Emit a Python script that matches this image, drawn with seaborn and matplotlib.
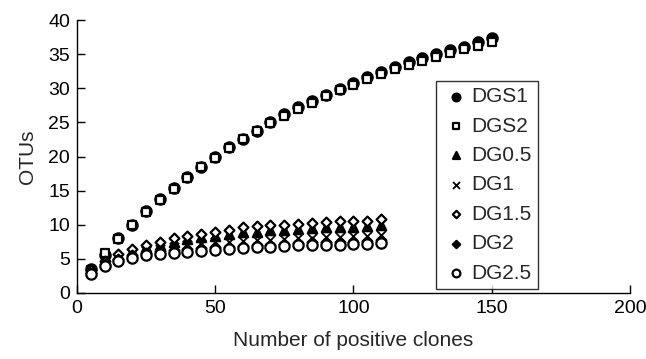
import matplotlib
matplotlib.use("Agg")
import matplotlib.pyplot as plt
import seaborn as sns
import pandas as pd

# clone counts (x) for the two long series and the five short ones
clones_long = list(range(5, 151, 5))
clones_short = list(range(5, 111, 5))

dgs1 = [3.5, 5.5, 8.0, 10.0, 12.0, 13.7, 15.4, 17.0, 18.5, 19.9,
        21.4, 22.6, 23.8, 25.0, 26.2, 27.2, 28.1, 29.0, 29.9, 30.8,
        31.7, 32.4, 33.1, 33.8, 34.4, 35.0, 35.6, 36.1, 36.8, 37.4]
dgs2 = [3.4, 5.8, 7.9, 9.9, 11.9, 13.6, 15.3, 16.9, 18.4, 19.8,
        21.3, 22.5, 23.7, 24.9, 26.0, 27.0, 27.9, 28.8, 29.7, 30.5,
        31.3, 32.1, 32.8, 33.4, 34.0, 34.6, 35.2, 35.7, 36.2, 36.8]
dg05 = [3.2, 4.5, 5.5, 6.2, 6.7, 7.1, 7.5, 7.9, 8.2, 8.4, 8.6,
        8.9, 9.0, 9.2, 9.3, 9.4, 9.5, 9.6, 9.7, 9.7, 9.8, 10.0]
dg1 = [3.0, 4.3, 5.1, 5.8, 6.2, 6.5, 6.8, 7.0, 7.2, 7.4, 7.5,
       7.6, 7.7, 7.8, 7.9, 8.0, 8.1, 8.2, 8.2, 8.3, 8.4, 8.5]
dg15 = [3.3, 4.7, 5.7, 6.5, 7.0, 7.5, 8.0, 8.4, 8.7, 9.0, 9.3,
        9.6, 9.8, 9.9, 10.0, 10.1, 10.3, 10.4, 10.5, 10.5, 10.6, 10.9]
dg2 = [2.9, 4.2, 5.0, 5.5, 5.9, 6.1, 6.3, 6.5, 6.6, 6.7, 6.8,
       6.9, 7.0, 7.1, 7.2, 7.3, 7.4, 7.4, 7.5, 7.5, 7.6, 7.7]
dg25 = [2.8, 4.0, 4.7, 5.1, 5.5, 5.7, 5.9, 6.0, 6.2, 6.3, 6.5,
        6.6, 6.7, 6.8, 6.9, 7.0, 7.0, 7.1, 7.1, 7.2, 7.2, 7.3]

xticks = [0, 50, 100, 150, 200]
yticks = [0, 5, 10, 15, 20, 25, 30, 35, 40]

# name, x, y, marker, filled, size
series = [
    ("DGS1", clones_long, dgs1, "o", True, 55),
    ("DGS2", clones_long, dgs2, "s", False, 38),
    ("DG0.5", clones_short, dg05, "^", True, 45),
    ("DG1", clones_short, dg1, "x", True, 45),
    ("DG1.5", clones_short, dg15, "D", False, 25),
    ("DG2", clones_short, dg2, "D", True, 25),
    ("DG2.5", clones_short, dg25, "o", False, 55),
]

sns.set_style("white")
plt.rcParams["font.family"] = ["Liberation Sans", "DejaVu Sans"]

fig = plt.figure(figsize=(6.46, 3.59), dpi=100)
ax = fig.add_axes([0.119, 0.184, 0.856, 0.76])

for name, xs, ys, mk, filled, size in series:
    df = pd.DataFrame({"x": xs, "y": ys})
    if mk == "x":
        sns.scatterplot(data=df, x="x", y="y", marker="x", color="black",
                        s=size, linewidth=1.3, ax=ax, label=name)
    else:
        sns.scatterplot(data=df, x="x", y="y", marker=mk,
                        facecolor="black" if filled else "white",
                        edgecolor="black", s=size, linewidth=1.6,
                        ax=ax, label=name)

ax.set_xlim(0, 200)
ax.set_ylim(0, 40)
ax.set_xticks(xticks)
ax.set_yticks(yticks)
ax.tick_params(direction="in", length=6, width=1, colors="black",
               labelsize=14, left=True, bottom=True, pad=5)
for side in ("top", "right"):
    ax.spines[side].set_visible(False)
for side in ("left", "bottom"):
    ax.spines[side].set_color("black")
    ax.spines[side].set_linewidth(1)

ax.set_xlabel("Number of positive clones", fontsize=15, labelpad=10)
ax.set_ylabel("OTUs", fontsize=15, labelpad=8)

leg = ax.legend(loc="lower left", bbox_to_anchor=(0.649, 0.015),
                borderaxespad=0, frameon=True, fancybox=False,
                edgecolor="black", fontsize=15, labelspacing=0.5,
                handletextpad=0.1, borderpad=0.3, markerscale=0.75,
                handlelength=1.3)
leg.get_frame().set_linewidth(1)

fig.savefig("out.png", dpi=100)
